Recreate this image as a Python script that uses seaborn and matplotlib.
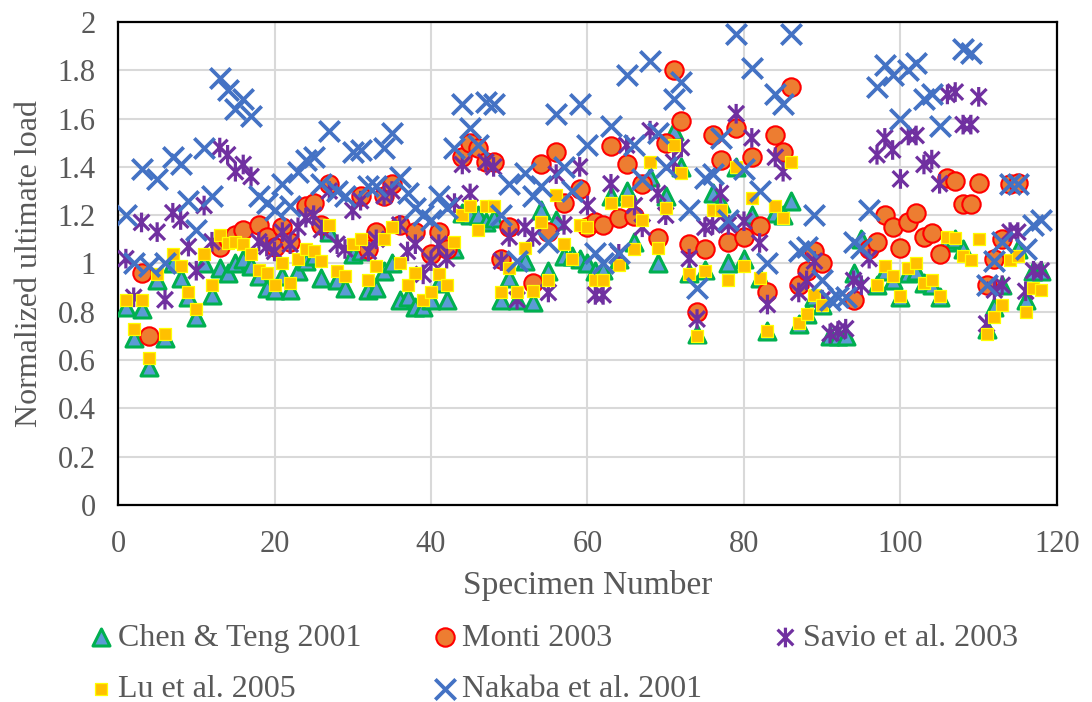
import numpy as np
import pandas as pd
import matplotlib
matplotlib.use("Agg")
import matplotlib.pyplot as plt
from matplotlib.path import Path
import seaborn as sns

# ---- data: specimen numbers and normalized ultimate loads per model ----
chen_spec = [1, 2, 3, 4, 5, 6, 7, 8, 9, 10, 11, 12, 13, 14, 15, 16, 17, 18, 19, 20,
             21, 22, 23, 24, 25, 26, 27, 28, 29, 30, 31, 32, 33, 34, 35, 36, 37, 38, 39, 40,
             41, 42, 43, 44, 45, 46, 47, 48, 49, 50, 51, 52, 53, 54, 55, 56, 57, 58, 59, 60,
             61, 62, 63, 64, 65, 66, 68, 69, 70, 71, 72, 73, 74, 75, 76, 77, 78, 79, 80,
             81, 82, 83, 84, 85, 86, 87, 88, 89, 90, 91, 92, 93, 94, 95, 97, 98, 99, 100,
             101, 102, 103, 104, 105, 106, 107, 108, 111, 112, 113, 115, 116, 117, 118]
chen_load = [0.82, 0.69, 0.81, 0.57, 0.93, 0.69, 1.00, 0.94, 0.86, 0.78, 1.00, 0.87, 0.98, 0.96, 1.00, 1.02, 0.99, 0.95, 0.90, 0.89,
             0.95, 0.89, 0.97, 1.01, 1.03, 0.94, 1.13, 0.93, 0.90, 1.04, 1.05, 0.89, 0.90, 0.97, 1.00, 0.85, 0.86, 0.82, 0.82, 0.85,
             0.92, 0.85, 1.06, 1.21, 1.20, 1.20, 1.17, 1.19, 0.85, 0.94, 0.85, 1.01, 0.84, 1.22, 0.97, 1.18, 1.03, 1.03, 1.02, 1.00,
             0.97, 0.975, 1.28, 1.02, 1.30, 1.09, 1.36, 1.00, 1.28, 1.55, 1.40, 0.96, 0.71, 0.975, 1.29, 1.25, 1.00, 1.40, 1.02,
             1.20, 0.94, 0.72, 1.21, 1.20, 1.26, 0.75, 0.79, 0.86, 0.83, 0.70, 0.70, 0.70, 0.96, 1.10, 0.91, 0.97, 0.93, 0.86,
             0.96, 0.97, 0.92, 0.91, 0.86, 1.09, 1.10, 1.06, 0.73, 0.82, 0.91, 1.06, 0.85, 0.97, 0.97]

monti_spec = [3, 4, 13, 14, 15, 16, 18, 19, 20, 21, 22, 24, 25, 26, 27, 31, 32, 33, 34, 35,
              36, 38, 40, 41, 42, 44, 45, 46, 47, 48, 49, 50, 53, 54, 55, 56, 57, 59, 60, 61,
              62, 63, 64, 65, 66, 67, 69, 70, 71, 72, 73, 74, 75, 76, 77, 78, 79, 80, 81, 82,
              83, 84, 85, 86, 87, 88, 89, 90, 94, 96, 97, 98, 99, 100, 101, 102, 103, 104, 105, 106,
              107, 108, 109, 110, 111, 112, 113, 114, 115]
monti_load = [0.96, 0.70, 1.07, 1.10, 1.12, 1.14, 1.16, 1.11, 1.07, 1.15, 1.09, 1.24, 1.25, 1.16, 1.33, 1.28, 1.06, 1.13, 1.28, 1.33,
              1.16, 1.13, 1.04, 1.13, 1.06, 1.44, 1.50, 1.48, 1.42, 1.42, 1.02, 1.15, 0.92, 1.41, 1.13, 1.46, 1.25, 1.31, 1.15, 1.17,
              1.16, 1.485, 1.19, 1.41, 1.195, 1.33, 1.105, 1.50, 1.80, 1.59, 1.08, 0.80, 1.06, 1.53, 1.43, 1.09, 1.56, 1.11, 1.44, 1.155,
              0.88, 1.53, 1.46, 1.73, 0.91, 0.97, 1.05, 1.00, 0.85, 1.06, 1.09, 1.20, 1.15, 1.065, 1.17, 1.21, 1.11, 1.125, 1.04, 1.355,
              1.34, 1.245, 1.245, 1.335, 0.91, 1.02, 1.10, 1.33, 1.335]

savio_spec = [1, 2, 3, 5, 6, 7, 8, 9, 10, 11, 12, 13, 14, 15, 16, 17, 18, 19, 20, 21,
              22, 23, 24, 25, 26, 27, 28, 29, 30, 31, 32, 33, 34, 35, 36, 37, 38, 39, 40, 41,
              42, 43, 44, 45, 47, 48, 49, 50, 51, 52, 53, 55, 56, 57, 59, 60, 61, 62, 63, 64,
              65, 66, 67, 68, 69, 70, 71, 72, 73, 74, 75, 76, 77, 78, 79, 80, 81, 82, 83, 84,
              85, 87, 88, 89, 90, 91, 92, 93, 94, 95, 96, 97, 98, 99, 100, 101, 102, 103, 104, 105,
              106, 107, 108, 109, 110, 111, 112, 113, 114, 115, 116, 117, 118]
savio_load = [1.02, 0.86, 1.17, 1.13, 0.85, 1.21, 1.18, 1.07, 0.97, 1.24, 1.09, 1.48, 1.45, 1.38, 1.41, 1.36, 1.09, 1.07, 1.05, 1.13,
              1.08, 1.15, 1.19, 1.20, 1.14, 1.30, 1.08, 1.06, 1.22, 1.26, 1.05, 1.10, 1.28, 1.30, 1.16, 1.05, 1.08, 0.955, 1.01, 1.08,
              1.02, 1.25, 1.41, 1.29, 1.42, 1.40, 1.01, 1.11, 0.85, 1.15, 1.11, 0.88, 1.37, 1.16, 1.40, 1.24, 0.87, 0.87, 1.33, 1.04,
              1.49, 1.24, 1.15, 1.55, 1.29, 1.20, 1.42, 1.48, 1.02, 0.77, 1.15, 1.16, 1.29, 1.16, 1.62, 1.175, 1.52, 1.085, 0.83, 1.44,
              1.38, 0.88, 0.93, 1.01, 0.85, 0.71, 0.72, 0.73, 0.93, 0.91, 1.02, 1.45, 1.52, 1.47, 1.35, 1.53, 1.53, 1.41, 1.43, 1.33,
              1.70, 1.71, 1.575, 1.575, 1.69, 0.75, 0.89, 0.91, 1.13, 1.13, 0.885, 0.97, 0.97]

lu_spec = [1, 2, 3, 4, 5, 6, 7, 8, 9, 10, 11, 12, 13, 14, 15, 16, 17, 18, 19, 20,
           21, 22, 23, 24, 25, 26, 27, 28, 29, 30, 31, 32, 33, 34, 35, 36, 37, 38, 39, 40,
           41, 42, 43, 44, 45, 46, 47, 48, 49, 50, 51, 52, 53, 54, 55, 56, 57, 58, 59, 60,
           61, 62, 63, 64, 65, 66, 67, 68, 69, 70, 71, 72, 73, 74, 75, 76, 77, 78, 79, 80,
           81, 82, 83, 84, 85, 86, 87, 88, 89, 90, 97, 98, 99, 100, 101, 102, 103, 104, 105, 106,
           107, 108, 109, 110, 111, 112, 113, 114, 115, 116, 117, 118]
lu_load = [0.85, 0.73, 0.85, 0.61, 0.955, 0.71, 1.04, 0.99, 0.88, 0.81, 1.04, 0.91, 1.12, 1.085, 1.09, 1.08, 1.04, 0.975, 0.96, 0.91,
           1.00, 0.92, 1.02, 1.06, 1.05, 1.01, 1.16, 0.97, 0.95, 1.08, 1.10, 0.93, 0.99, 1.10, 1.15, 1.00, 0.91, 0.96, 0.85, 0.88,
           0.955, 0.91, 1.09, 1.20, 1.24, 1.14, 1.24, 1.24, 0.88, 0.98, 0.88, 1.065, 0.885, 1.17, 0.93, 1.285, 1.08, 1.02, 1.16, 1.15,
           0.93, 0.93, 1.25, 0.995, 1.26, 1.06, 1.18, 1.42, 1.065, 1.23, 1.49, 1.375, 0.955, 0.70, 0.97, 1.22, 1.22, 0.93, 1.40, 0.99,
           1.27, 0.94, 0.72, 1.24, 1.19, 1.42, 0.755, 0.79, 0.87, 0.83, 0.91, 0.99, 0.95, 0.865, 0.98, 1.00, 0.92, 0.93, 0.865, 1.11,
           1.105, 1.03, 1.015, 1.10, 0.71, 0.78, 0.83, 1.015, 1.03, 0.80, 0.90, 0.89]

nakaba_spec = [1, 2, 3, 4, 5, 6, 7, 8, 9, 10, 11, 12, 13, 14, 15, 16, 17, 18, 19, 20,
               21, 22, 23, 24, 25, 26, 27, 28, 29, 30, 31, 32, 33, 34, 35, 36, 37, 38, 39, 40,
               41, 42, 43, 44, 45, 46, 47, 48, 49, 50, 51, 52, 53, 54, 55, 56, 57, 58, 59, 60,
               61, 62, 63, 64, 65, 66, 67, 68, 69, 70, 71, 72, 73, 74, 75, 76, 77, 78, 79, 80,
               81, 82, 83, 84, 85, 86, 87, 88, 89, 90, 91, 92, 93, 94, 95, 96, 97, 98, 99, 100,
               101, 102, 103, 104, 105, 108, 109, 111, 112, 113, 114, 115, 116, 117, 118]
nakaba_load = [1.20, 1.00, 1.39, 0.99, 1.35, 1.00, 1.44, 1.41, 1.26, 1.14, 1.48, 1.28, 1.77, 1.72, 1.64, 1.68, 1.61, 1.28, 1.25, 1.22,
               1.33, 1.24, 1.38, 1.43, 1.44, 1.33, 1.55, 1.30, 1.28, 1.46, 1.47, 1.32, 1.32, 1.48, 1.54, 1.36, 1.29, 1.23, 1.20, 1.18,
               1.28, 1.23, 1.48, 1.66, 1.56, 1.49, 1.67, 1.66, 1.20, 1.33, 1.01, 1.375, 1.28, 1.32, 1.09, 1.62, 1.40, 1.30, 1.66, 1.49,
               1.045, 1.00, 1.57, 1.045, 1.78, 1.49, 1.35, 1.84, 1.54, 1.40, 1.68, 1.75, 1.22, 0.90, 1.355, 1.37, 1.52, 1.18, 1.95, 1.39,
               1.81, 1.30, 1.00, 1.70, 1.66, 1.95, 1.05, 1.07, 1.20, 0.93, 0.85, 0.86, 0.86, 1.09, 1.065, 1.22, 1.73, 1.82, 1.78, 1.60,
               1.80, 1.83, 1.68, 1.70, 1.57, 1.89, 1.87, 0.91, 1.01, 1.09, 1.33, 1.33, 1.06, 1.16, 1.18]

x_ticks = [0, 20, 40, 60, 80, 100, 120]
y_ticks = [0, 0.2, 0.4, 0.6, 0.8, 1, 1.2, 1.4, 1.6, 1.8, 2]
y_tick_labels = ["0", "0.2", "0.4", "0.6", "0.8", "1", "1.2", "1.4", "1.6", "1.8", "2"]

# ---- styling ----
sns.set_style("white")
plt.rcParams["font.family"] = ["Liberation Serif", "DejaVu Serif"]
TEXT = "#595959"
GRID = "#D9D9D9"

# asterisk marker: vertical bar crossed by an X
star_path = Path(
    [(0, -1), (0, 1), (-0.8, -0.8), (0.8, 0.8), (-0.8, 0.8), (0.8, -0.8)],
    [Path.MOVETO, Path.LINETO, Path.MOVETO, Path.LINETO, Path.MOVETO, Path.LINETO],
)

fig = plt.figure(figsize=(10.92, 7.02), dpi=100)
ax = fig.add_axes([0.1081, 0.2806, 0.8598, 0.6881])

series = [
    ("Chen & Teng 2001", chen_spec, chen_load,
     dict(marker="^", s=150, color="#5B9BD5", facecolor="#5B9BD5", edgecolor="#00B050", linewidth=2.2)),
    ("Monti 2003", monti_spec, monti_load,
     dict(marker="o", s=175, color="#ED7D31", facecolor="#ED7D31", edgecolor="#FF0000", linewidth=1.5)),
    ("Savio et al. 2003", savio_spec, savio_load,
     dict(marker=star_path, s=200, color="#7030A0", facecolor="none", edgecolor="#7030A0", linewidth=2.3)),
    ("Lu et al. 2005", lu_spec, lu_load,
     dict(marker="s", s=85, color="#FFC000", facecolor="#FFC000", edgecolor="#FFFF00", linewidth=0.9)),
    ("Nakaba et al. 2001", nakaba_spec, nakaba_load,
     dict(marker="x", s=215, color="#4472C4", linewidth=2.7)),
]

for i, (name, xs, ys, kw) in enumerate(series):
    df = pd.DataFrame({"Specimen Number": xs, "Normalized ultimate load": ys})
    sns.scatterplot(data=df, x="Specimen Number", y="Normalized ultimate load",
                    ax=ax, label=name, zorder=3 + i, legend=True, **kw)

ax.set_xlim(0, 120)
ax.set_ylim(0, 2)
ax.set_xticks(x_ticks)
ax.set_yticks(y_ticks)
ax.set_xticklabels([str(t) for t in x_ticks])
ax.set_yticklabels(y_tick_labels)
ax.grid(True, color=GRID, linewidth=1.5, zorder=0)
ax.set_axisbelow(True)
for sp in ax.spines.values():
    sp.set_color("black")
    sp.set_linewidth(1.6)
ax.tick_params(axis="both", length=0, labelsize=22, colors=TEXT)
ax.tick_params(axis="x", pad=18)
ax.tick_params(axis="y", pad=16)
ax.set_xlabel("Specimen Number", fontsize=24, color=TEXT, labelpad=8)
ax.set_ylabel("Normalized ultimate load", fontsize=23, color=TEXT, labelpad=10)

# legend below the plot, row by row: Chen, Monti, Savio / Lu, Nakaba
h, l = ax.get_legend_handles_labels()
ax.get_legend().remove()
order = [0, 3, 1, 4, 2]
fig.legend([h[k] for k in order], [l[k] for k in order], ncol=3,
           loc="upper left", bbox_to_anchor=(0.066, 0.13), frameon=False,
           fontsize=23, handletextpad=0.05, columnspacing=2.1, labelspacing=0.68,
           handlelength=1.0, borderaxespad=0, labelcolor=TEXT, markerscale=1.0)

fig.savefig("out.png", dpi=100)
